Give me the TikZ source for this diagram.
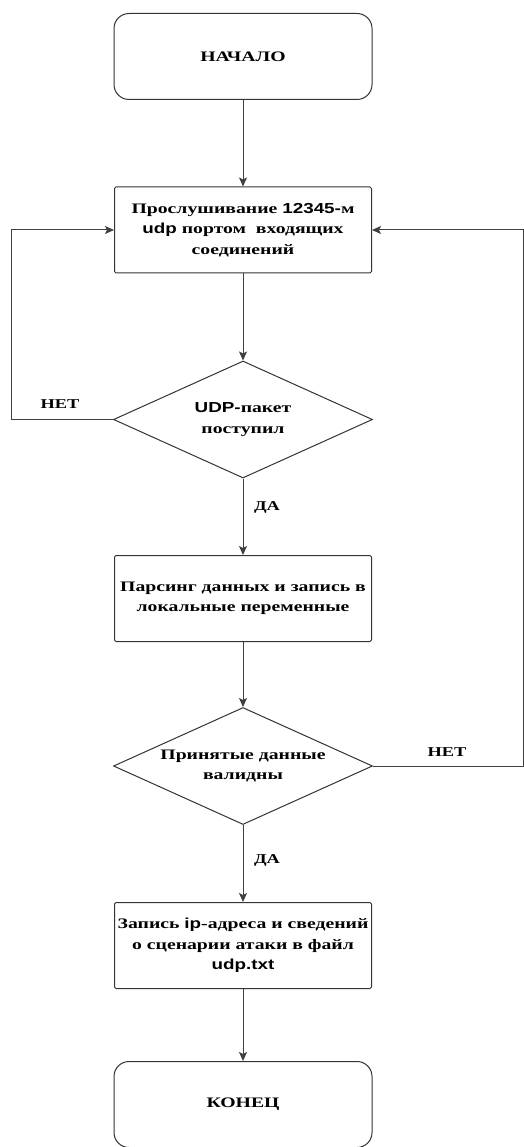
\documentclass[tikz,border=0pt]{standalone}
\usepackage{fontspec}
\setmainfont{Liberation Serif}[FakeStretch=1.36]
\newfontfamily\sansf{Liberation Sans}[FakeStretch=1.3]
\usetikzlibrary{shapes.geometric,arrows.meta}
\begin{document}
\begin{tikzpicture}[x=1pt,y=-1pt,
  every node/.style={font=\fontsize{14.5}{20.5}\selectfont\bfseries, align=center, inner sep=0pt},
  term/.style={draw=black!80, line width=1pt, rounded corners=15pt, minimum width=258pt, minimum height=86pt},
  proc/.style={draw=black!80, line width=1pt, rounded corners=1.5pt, minimum width=257pt, minimum height=86pt},
  dec/.style={draw=black!80, line width=1pt, diamond, aspect=2.2, minimum width=259pt, minimum height=117pt},
  conn/.style={draw=black!75, line width=1pt},
  arr/.style={conn, -{Stealth[length=9pt,width=8pt,inset=2pt]}},
  lbl/.style={font=\fontsize{13.5}{16}\selectfont\bfseries}]
\useasboundingbox (0,0) rectangle (523,1147);
\node[term] (start) at (243,56.5) {НАЧАЛО};
\node[proc] (listen) at (243,230) {Прослушивание {\sansf 12345-}м\\{\sansf udp} портом\ \ входящих\\соединений};
\node[dec] (d1) at (243,419.5) {{\sansf UDP-}пакет\\поступил};
\node[proc] (parse) at (243,598.5) {Парсинг данных и запись в\\локальные переменные};
\node[dec] (d2) at (243,766) {Принятые данные\\валидны};
\node[proc] (rec) at (243,945.5) {Запись {\sansf ip}-адреса и сведений\\о сценарии атаки в файл\\{\sansf udp.txt}};
\node[term] (end) at (243,1104.5) {КОНЕЦ};
\coordinate (l1) at (11,419.5);
\coordinate (l2) at (11,230);
\coordinate (r1) at (523.5,766);
\coordinate (r2) at (523.5,230);
\draw[arr] (start) -- (listen);
\draw[arr] (listen) -- (d1);
\draw[arr] (d1.west) -- (l1) -- (l2) -- (listen.west);
\draw[arr] (d1.south) -- (parse.north);
\draw[arr] (parse) -- (d2);
\draw[arr] (d2.east) -- (r1) -- (r2) -- (listen.east);
\draw[arr] (d2.south) -- (rec.north);
\draw[arr] (rec) -- (end);
\node[lbl] (n1) at (60,404) {НЕТ};
\node[lbl] (y1) at (267,507) {ДА};
\node[lbl] (n2) at (447,752) {НЕТ};
\node[lbl] (y2) at (267,860) {ДА};
\end{tikzpicture}
\end{document}
